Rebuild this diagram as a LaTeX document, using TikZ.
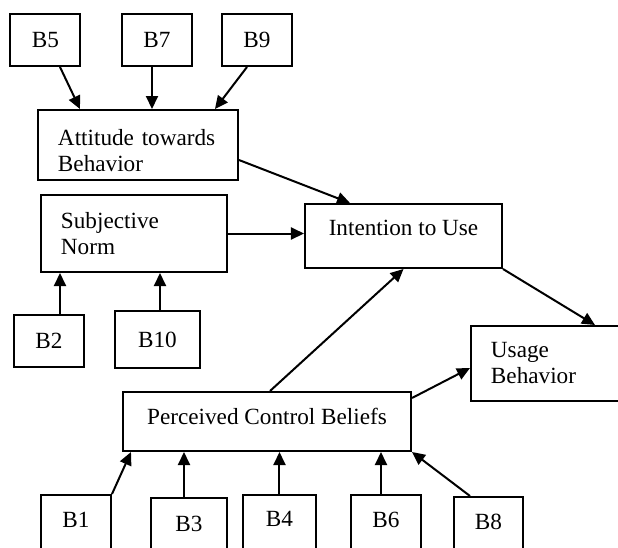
\documentclass[tikz,border=0pt]{standalone}
\usepackage{fontspec}
\setmainfont{Liberation Serif}
\usetikzlibrary{arrows.meta, calc}
\begin{document}
\begin{tikzpicture}[x=0.5pt, y=-0.5pt, >={Triangle[length=6.5pt, width=6pt]},
        every path/.style={line width=1pt},
        box/.style={draw, line width=1pt, inner ysep=0pt, font=\fontsize{11.6}{13}\selectfont},
        bbox/.style={box, minimum width=35pt, minimum height=26pt, inner xsep=0pt},
        tbox/.style={box, align=left, inner xsep=10pt}]
        \useasboundingbox (0, 0) rectangle (618, 548);

        % beliefs on top
        \node[bbox] at (45.5, 40)  (b5)    {B5};
        \node[bbox] at (157, 40)   (b7)    {B7};
        \node[bbox] at (257, 40)   (b9)    {B9};

        \node[tbox, text width=80pt, minimum height=35pt] at (138, 145)  (att)  {\rule{0pt}{14pt}Attitude towards\\Behavior};
        \node[tbox, text width=73pt, minimum height=38.5pt] at (134, 233.5)  (sn)  {Subjective\\Norm};
        \node[box, minimum width=98.5pt, minimum height=32pt, text depth=8pt] at (403.5, 236)  (int)  {Intention to Use};
        \node[tbox, text width=59pt, minimum height=37.5pt] at (550, 363.5)  (use)  {Usage\\Behavior};
        \node[box, minimum width=144pt, minimum height=29.5pt, text depth=5pt] at (267, 421.5)  (pcb)  {Perceived Control Beliefs};

        \node[bbox] at (49, 340.5)  (b2)    {B2};
        \node[bbox, minimum width=42.5pt, minimum height=28.5pt] at (157.5, 339.5)  (b10)   {B10};

        % beliefs at the bottom, cut by the page
        \node[bbox, minimum height=28pt, text depth=3pt] at (76, 523)     (b1)    {B1};
        \node[bbox, minimum width=38pt, minimum height=28pt, text depth=2pt] at (189, 526)  (b3)    {B3};
        \node[bbox, minimum width=36.5pt, minimum height=28pt, text depth=4pt] at (279.5, 523)  (b4)    {B4};
        \node[bbox, minimum height=28pt, text depth=3pt] at (386, 523)    (b6)    {B6};
        \node[bbox, minimum width=34.5pt, minimum height=28pt, text depth=3pt] at (488.5, 525)  (b8)    {B8};

        \draw[->]  ($(b5.south)+(14.5, 0)$) -- ($(att.north)+(-58, 0)$);
        \draw[->]  ($(b7.south)+(-5, 0)$) -- ($(att.north)+(14, 0)$);
        \draw[->]  ($(b9.south)+(-10, 0)$) -- ($(att.north)+(77, 0)$);

        \draw[->]  ($(att.east)+(0, 15)$) -- ($(int.north)+(-53.5, 0)$);
        \draw[->]  (sn.east) -- (sn.east -| int.west);
        \draw[->]  (int.south east) -- ($(use.north)+(45, 0)$);
        \draw[->]  ($(pcb.north)+(3, 0)$) -- (int.south);
        \draw[->]  ($(pcb.north east)+(0, 7)$) -- ($(use.west)+(0, 4.5)$);

        \draw[->]  ($(b2.north)+(11, 0)$) -- ($(sn.south)+(-74, 0)$);
        \draw[->]  ($(b10.north)+(2.5, 0)$) -- ($(sn.south)+(26, 0)$);

        \draw[->]  (b1.north east) -- ($(pcb.south west)+(9, 0)$);
        \draw[->]  ($(b3.north)+(-5, 0)$) -- ($(pcb.south)+(-83, 0)$);
        \draw[->]  (b4.north) -- ($(pcb.south)+(12.5, 0)$);
        \draw[->]  ($(b6.north)+(-5, 0)$) -- ($(pcb.south)+(114, 0)$);
        \draw[->]  ($(b8.north)+(-18.5, 0)$) -- (pcb.south east);

    \end{tikzpicture}
\end{document}
